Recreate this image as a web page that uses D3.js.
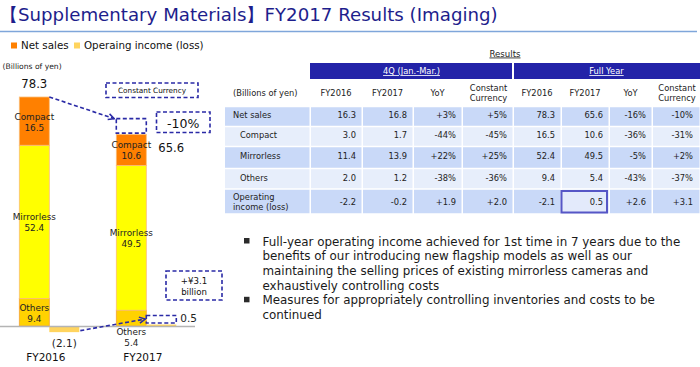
<!DOCTYPE html>
<html><head><meta charset="utf-8">
<script src="https://cdn.jsdelivr.net/npm/d3@7"></script>
<style>
html,body{margin:0;padding:0;background:#fff;}
svg{display:block;font-family:"DejaVu Sans",Verdana,sans-serif;}
</style></head>
<body><svg id="c" width="700" height="367"></svg>
<script>
// ---------- data ----------
const categories = ["FY2016", "FY2017"];
const segmentNames = ["Others", "Mirrorless", "Compact"];
const compact = [16.5, 10.6];
const mirrorless = [52.4, 49.5];
const others = [9.4, 5.4];
const netSales = [78.3, 65.6];
const opIncome = [-2.1, 0.5];
const opIncomeLabels = ["(2.1)", "0.5"];
const legendLabels = ["Net sales", "Operaing income (loss)"];
const constantCurrencyChange = ["-10%", "+¥3.1", "billion"];

const tableRowLabels = [["Net sales"], ["Compact"], ["Mirrorless"], ["Others"], ["Operating", "income (loss)"]];
const periodHeaders = ["4Q (Jan.-Mar.)", "Full Year"];
const columnHeaders = [["FY2016"], ["FY2017"], ["YoY"], ["Constant", "Currency"]];
const q4FY2016 = ["16.3", "3.0", "11.4", "2.0", "-2.2"];
const q4FY2017 = ["16.8", "1.7", "13.9", "1.2", "-0.2"];
const q4YoY = ["+3%", "-44%", "+22%", "-38%", "+1.9"];
const q4Constant = ["+5%", "-45%", "+25%", "-36%", "+2.0"];
const fyFY2016 = ["78.3", "16.5", "52.4", "9.4", "-2.1"];
const fyFY2017 = ["65.6", "10.6", "49.5", "5.4", "0.5"];
const fyYoY = ["-16%", "-36%", "-5%", "-43%", "+2.6"];
const fyConstant = ["-10%", "-31%", "+2%", "-37%", "+3.1"];

const bullets = [
  ["Full-year operating income achieved for 1st time in 7 years due to the",
   "benefits of our introducing new flagship models as well as our",
   "maintaining the selling prices of existing mirrorless cameras and",
   "exhaustively controlling costs"],
  ["Measures for appropriately controlling inventories and costs to be",
   "continued"]
];

// ---------- setup ----------
const svg = d3.select("#c");
const segColor = {Compact: "#FF8000", Mirrorless: "#FFFF00", Others: "#FFD200"};
const opColor = "#FFD45E";
const navy = "#2A2AA6";

// title
svg.append("text").attr("x", 0).attr("y", 21).attr("font-size", 18.2)
  .attr("fill", "#1E1E8C").text("【Supplementary Materials】FY2017 Results (Imaging)");
svg.append("line").attr("x1", 0).attr("x2", 697).attr("y1", 31.5).attr("y2", 31.5)
  .attr("stroke", "#7FA6DA").attr("stroke-width", 1.5);

// legend
const legend = svg.append("g");
[[11, segColor.Compact, 21], [74, opColor, 84]].forEach((d, i) => {
  legend.append("rect").attr("x", d[0]).attr("y", 42.5).attr("width", 6).attr("height", 6).attr("fill", d[1]);
  legend.append("text").attr("x", d[2]).attr("y", 49).attr("font-size", 10.3).attr("fill", "#111").text(legendLabels[i]);
});
svg.append("text").attr("x", 2.5).attr("y", 68.5).attr("font-size", 7.6).attr("fill", "#222").text("(Billions of yen)");

// ---------- chart ----------
const y = d3.scaleLinear().domain([0, d3.max(netSales)]).range([326, 97]);
const x = d3.scalePoint().domain(categories).range([34.3, 131.3]);
const bw = 30;

const rows = categories.map((c, i) => ({cat: c, Compact: compact[i], Mirrorless: mirrorless[i], Others: others[i]}));
const stack = d3.stack().keys(segmentNames)(rows);

const g = svg.append("g");
stack.forEach(layer => {
  g.selectAll(null).data(layer).enter().append("rect")
    .attr("x", d => x(d.data.cat) - bw / 2)
    .attr("y", d => y(d[1]))
    .attr("width", bw)
    .attr("height", d => y(d[0]) - y(d[1]))
    .attr("fill", segColor[layer.key])
    .attr("stroke", layer.key === "Others" ? "#F6A23A" : "#FBBE7A").attr("stroke-width", 0.8);
});
// operating income bars
g.selectAll(null).data(categories).enter().append("rect")
  .attr("x", c => x(c) + bw / 2)
  .attr("y", (c, i) => y(Math.max(0, opIncome[i])))
  .attr("width", bw)
  .attr("height", (c, i) => Math.abs(y(opIncome[i]) - y(0)))
  .attr("fill", opColor);
// baseline
g.append("line").attr("x1", 0).attr("x2", 195).attr("y1", y(0) + 0.5).attr("y2", y(0) + 0.5)
  .attr("stroke", "#B4B4B4").attr("stroke-width", 1.5);

// segment labels
const lab = svg.append("g").attr("font-size", 8.9).attr("fill", "#222").attr("text-anchor", "middle");
stack.forEach(layer => {
  layer.forEach((d, i) => {
    let cy = (y(d[0]) + y(d[1])) / 2;
    if (layer.key === "Others" && i === 1) cy = y(0) + 10;
    lab.append("text").attr("x", x(d.data.cat)).attr("y", cy - 1.5).text(layer.key);
    lab.append("text").attr("x", x(d.data.cat)).attr("y", cy + 9.5).text(d.data[layer.key].toFixed(1));
  });
});
// totals
svg.append("text").attr("x", x(categories[0])).attr("y", y(netSales[0]) - 9.5).attr("font-size", 11.7)
  .attr("text-anchor", "middle").attr("fill", "#111").text(netSales[0].toFixed(1));
svg.append("text").attr("x", x(categories[1]) + bw / 2 + 12).attr("y", y(netSales[1]) + 17.5).attr("font-size", 11.6)
  .attr("fill", "#111").text(netSales[1].toFixed(1));
// op income labels
svg.append("text").attr("x", x(categories[0]) + bw).attr("y", y(opIncome[0]) + 14.5).attr("font-size", 10.5)
  .attr("text-anchor", "middle").attr("fill", "#222").text(opIncomeLabels[0]);
svg.append("text").attr("x", x(categories[1]) + bw * 1.5 + 4).attr("y", y(opIncome[1]) - 2.5).attr("font-size", 10.5)
  .attr("fill", "#222").text(opIncomeLabels[1]);
// category labels
svg.selectAll(null).data(categories).enter().append("text")
  .attr("x", c => x(c) + bw / 2 - 3.5).attr("y", 361).attr("font-size", 10.5)
  .attr("text-anchor", "middle").attr("fill", "#111").text(c => c);

// annotations
const defs = svg.append("defs");
defs.append("marker").attr("id", "arr").attr("viewBox", "0 0 8 8").attr("refX", 7).attr("refY", 4)
  .attr("markerWidth", 8).attr("markerHeight", 8).attr("markerUnits", "userSpaceOnUse").attr("orient", "auto")
  .append("path").attr("d", "M1,1 L7,4 L1,7").attr("fill", "none").attr("stroke", navy).attr("stroke-width", 1.5);

const ann = svg.append("g").attr("fill", "none").attr("stroke", navy).attr("stroke-width", 1.6).attr("stroke-dasharray", "4,2.5");
const x17 = x(categories[1]);
ann.append("rect").attr("x", x17 - bw / 2).attr("y", y(netSales[1]) - 15.5).attr("width", bw).attr("height", 14.5);
ann.append("rect").attr("x", 106).attr("y", 83).attr("width", 92).attr("height", 14.5);
ann.append("rect").attr("x", 156.5).attr("y", 112).attr("width", 53.5).attr("height", 20.5);
ann.append("rect").attr("x", 166).attr("y", 271).attr("width", 56).attr("height", 29);
ann.append("rect").attr("x", x17 + bw / 2).attr("y", y(opIncome[1]) - 9).attr("width", bw).attr("height", 7.5);
ann.append("line").attr("x1", x(categories[0]) + bw / 2).attr("y1", y(netSales[0]))
  .attr("x2", x17 - bw / 2 - 2).attr("y2", y(netSales[1]) - 15.5).attr("marker-end", "url(#arr)");
ann.append("line").attr("x1", x(categories[0]) + bw * 1.5 + 1).attr("y1", y(opIncome[0]) - 1.5)
  .attr("x2", x17 + bw / 2 - 1).attr("y2", y(opIncome[1]) - 5.5).attr("marker-end", "url(#arr)");

const annT = svg.append("g").attr("text-anchor", "middle").attr("fill", "#111");
annT.append("text").attr("x", 152).attr("y", 93.3).attr("font-size", 7.3).text("Constant Currency");
annT.append("text").attr("x", 183.2).attr("y", 127.5).attr("font-size", 12.5).text(constantCurrencyChange[0]);
annT.append("text").attr("x", 194).attr("y", 284.3).attr("font-size", 8.6).text(constantCurrencyChange[1]);
annT.append("text").attr("x", 194).attr("y", 295).attr("font-size", 8.6).text(constantCurrencyChange[2]);

// ---------- table ----------
const colEdges = [225, 310, 362, 413, 462, 513, 561, 609, 652, 700];
const rowEdges = [106.5, 126.5, 146.5, 168.5, 189, 214];
const rowFill = ["#C9D9F8", "#E7EEFB", "#C9D9F8", "#E7EEFB", "#C9D9F8"];
const cols = [q4FY2016, q4FY2017, q4YoY, q4Constant, fyFY2016, fyFY2017, fyYoY, fyConstant];
const T = svg.append("g").attr("font-size", 8.3).attr("fill", "#222");

T.append("text").attr("x", 505).attr("y", 56.5).attr("text-anchor", "middle").attr("font-size", 8.6)
  .attr("text-decoration", "underline").text("Results");

// period headers
[[colEdges[1], colEdges[5]], [colEdges[5], colEdges[9]]].forEach((e, i) => {
  T.append("rect").attr("x", e[0] + (i ? 1 : 0)).attr("y", 63).attr("width", e[1] - e[0] - 1).attr("height", 16).attr("fill", "#2323A8");
  T.append("text").attr("x", (e[0] + e[1]) / 2).attr("y", 74).attr("text-anchor", "middle").attr("fill", "#fff")
    .attr("text-decoration", "underline").text(periodHeaders[i]);
});
// column headers
T.append("text").attr("x", 233).attr("y", 96.3).text("(Billions of yen)");
for (let c = 0; c < 8; c++) {
  const h = columnHeaders[c % 4];
  const cx = (colEdges[c + 1] + colEdges[c + 2]) / 2;
  h.forEach((t, k) => {
    T.append("text").attr("x", cx + (h.length > 1 ? 1 : 0)).attr("y", h.length > 1 ? 91.3 + k * 9.5 : 96.3)
      .attr("text-anchor", "middle").text(t);
  });
}
// rows
tableRowLabels.forEach((lbl, r) => {
  const y0 = rowEdges[r], y1 = rowEdges[r + 1];
  for (let c = 0; c < 9; c++) {
    T.append("rect").attr("x", colEdges[c] + (c ? 1 : 0)).attr("y", y0 + 0.75)
      .attr("width", colEdges[c + 1] - colEdges[c] - (c ? 1.5 : 0.5)).attr("height", y1 - y0 - 1.5).attr("fill", rowFill[r]);
  }
  const cy = (y0 + y1) / 2;
  const lx = (r >= 1 && r <= 3) ? 240 : 233;
  lbl.forEach((t, k) => {
    T.append("text").attr("x", lx).attr("y", lbl.length > 1 ? cy - 1.3 + k * 9.5 : cy + 1.8).text(t);
  });
  cols.forEach((col, c) => {
    const rx = colEdges[c + 2] - (c === 7 ? 7 : 6);
    T.append("text").attr("x", rx).attr("y", cy + (r === 4 ? 3.3 : 1.8)).attr("text-anchor", "end").text(col[r]);
  });
});
// highlight box on FY2017 full-year operating income
T.append("rect").attr("x", colEdges[6] + 0.5).attr("y", rowEdges[4] + 2).attr("width", colEdges[7] - colEdges[6] - 2.5)
  .attr("height", rowEdges[5] - rowEdges[4] - 3.5).attr("fill", "#E3EAFB").attr("stroke", "#5656C6").attr("stroke-width", 2);
T.append("text").attr("x", colEdges[7] - 6).attr("y", (rowEdges[4] + rowEdges[5]) / 2 + 3.3).attr("text-anchor", "end").text(fyFY2017[4]);

// ---------- bullets ----------
const B = svg.append("g").attr("font-size", 11.9).attr("fill", "#1A1A1A");
let line = 0;
bullets.forEach(b => {
  const by = 245.5 + line * 14.7;
  B.append("rect").attr("x", 244).attr("y", by - 7.5).attr("width", 5.5).attr("height", 5.5).attr("fill", "#2B2B2B");
  b.forEach(t => {
    B.append("text").attr("x", 262.5).attr("y", 245.5 + line * 14.7).text(t);
    line++;
  });
});
</script></body></html>
